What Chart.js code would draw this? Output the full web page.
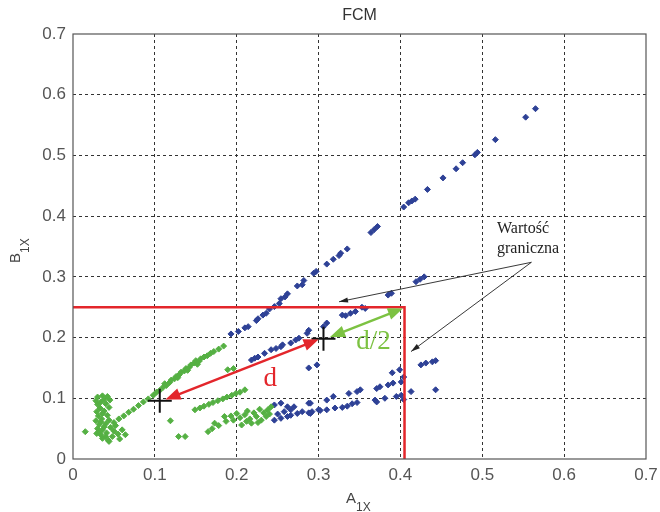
<!DOCTYPE html>
<html>
<head>
<meta charset="utf-8">
<script src="https://cdn.jsdelivr.net/npm/chart.js@4.4.0/dist/chart.umd.min.js"></script>
<style>
  body { margin: 0; background: #fff; }
</style>
</head>
<body>
<canvas id="chart" width="660" height="512"></canvas>
<script>
const xTicks = [0, 0.1, 0.2, 0.3, 0.4, 0.5, 0.6, 0.7];
const yTicks = [0, 0.1, 0.2, 0.3, 0.4, 0.5, 0.6, 0.7];

// cluster 2 (blue)
const bluePoints = [
  [0.565,0.577],[0.553,0.563],[0.516,0.526],[0.494,0.505],[0.491,0.501],[0.476,0.488],[0.468,0.478],
  [0.452,0.463],[0.433,0.444],[0.418,0.428],[0.414,0.425],[0.410,0.422],[0.404,0.415],[0.372,0.383],
  [0.368,0.378],[0.364,0.373],[0.335,0.346],[0.325,0.335],[0.327,0.339],[0.318,0.329],[0.310,0.321],
  [0.297,0.309],[0.294,0.306],[0.282,0.294],[0.280,0.287],[0.274,0.285],[0.262,0.272],[0.259,0.267],
  [0.254,0.264],[0.252,0.256],[0.246,0.251],[0.240,0.247],[0.236,0.240],[0.232,0.237],[0.226,0.231],
  [0.224,0.228],[0.214,0.218],[0.210,0.216],[0.202,0.210],[0.193,0.206],
  [0.218,0.163],[0.222,0.166],[0.226,0.168],[0.234,0.174],[0.242,0.180],[0.248,0.182],[0.254,0.185],
  [0.256,0.188],[0.266,0.191],[0.272,0.196],[0.276,0.199],[0.286,0.207],[0.288,0.212],[0.306,0.218],
  [0.310,0.224],[0.329,0.237],[0.333,0.236],[0.339,0.240],[0.345,0.243],[0.353,0.250],[0.357,0.248],
  [0.385,0.270],[0.389,0.273],[0.419,0.292],[0.424,0.296],[0.429,0.300],
  [0.288,0.150],[0.298,0.155],
  [0.443,0.162],[0.439,0.160],[0.431,0.158],[0.425,0.155],[0.399,0.147],[0.390,0.142],[0.401,0.127],
  [0.391,0.125],[0.385,0.122],[0.375,0.119],[0.371,0.116],[0.413,0.111],[0.443,0.114],[0.401,0.105],
  [0.395,0.103],[0.381,0.100],[0.369,0.097],[0.371,0.094],[0.351,0.114],[0.347,0.111],[0.337,0.108],
  [0.318,0.103],[0.310,0.097],[0.347,0.093],[0.341,0.091],[0.335,0.087],[0.329,0.085],[0.320,0.084],
  [0.310,0.081],[0.302,0.080],[0.292,0.078],[0.288,0.076],[0.288,0.092],[0.270,0.086],[0.266,0.081],
  [0.266,0.072],[0.262,0.070],[0.246,0.089],[0.254,0.092],[0.262,0.086],[0.274,0.075],[0.254,0.067],
  [0.246,0.064],[0.290,0.092],[0.290,0.075],[0.300,0.081],[0.280,0.078],[0.258,0.078],[0.250,0.074],
  [0.404,0.135],[0.404,0.098]
];

// cluster 1 (green)
const greenPoints = [
  [0.030,0.102],[0.036,0.104],[0.042,0.103],[0.028,0.096],[0.038,0.098],[0.045,0.097],[0.030,0.090],
  [0.040,0.091],[0.033,0.084],[0.044,0.085],[0.029,0.078],[0.038,0.079],[0.031,0.071],[0.042,0.072],
  [0.035,0.066],[0.028,0.063],[0.044,0.064],[0.032,0.057],[0.040,0.058],[0.030,0.050],[0.036,0.048],
  [0.046,0.052],[0.029,0.042],[0.034,0.040],[0.041,0.043],[0.050,0.046],[0.036,0.034],[0.043,0.031],
  [0.048,0.037],[0.055,0.041],[0.060,0.048],[0.064,0.040],[0.057,0.033],[0.015,0.045],[0.044,0.029],
  [0.052,0.055],[0.034,0.094],[0.036,0.075],[0.034,0.061],[0.038,0.053],[0.032,0.045],[0.040,0.037],
  [0.050,0.060],[0.056,0.066],[0.062,0.071],[0.068,0.077],[0.074,0.082],[0.080,0.088],[0.086,0.094],
  [0.092,0.099],[0.098,0.105],[0.102,0.110],[0.106,0.113],[0.110,0.118],[0.114,0.121],[0.112,0.124],
  [0.118,0.126],[0.120,0.130],[0.124,0.132],[0.126,0.136],[0.130,0.139],[0.132,0.143],[0.136,0.145],
  [0.138,0.149],[0.142,0.151],[0.144,0.155],[0.148,0.158],[0.150,0.162],[0.154,0.161],[0.156,0.165],
  [0.160,0.168],[0.164,0.170],[0.168,0.174],[0.172,0.177],[0.178,0.181],[0.184,0.186],[0.128,0.134],
  [0.140,0.146],[0.152,0.156],
  [0.119,0.063],[0.129,0.037],[0.137,0.037],[0.196,0.149],[0.189,0.147],
  [0.149,0.081],[0.155,0.084],[0.160,0.087],[0.166,0.090],[0.171,0.093],[0.177,0.096],[0.183,0.099],
  [0.188,0.102],[0.194,0.105],[0.199,0.108],[0.204,0.110],[0.210,0.114],
  [0.165,0.045],[0.170,0.050],[0.173,0.059],[0.178,0.055],[0.185,0.070],[0.187,0.062],[0.193,0.071],
  [0.196,0.064],[0.200,0.075],[0.204,0.068],[0.206,0.056],[0.210,0.073],[0.213,0.079],[0.216,0.066],
  [0.218,0.059],[0.221,0.076],[0.224,0.070],[0.228,0.082],[0.230,0.064],[0.233,0.076],[0.236,0.070],
  [0.238,0.081],[0.242,0.086],[0.240,0.074],[0.226,0.060],[0.212,0.062]
];

const centers = [[0.106, 0.096], [0.306, 0.198]];
const limitLine = [[0, 0.25], [0.405, 0.25], [0.405, 0]];
const arrowD = [[0.113, 0.098], [0.300, 0.197]];
const arrowHalf = [[0.314, 0.201], [0.403, 0.248]];
const noteFrom = [0.560, 0.324];
const noteTo = [[0.325, 0.259], [0.413, 0.177]];
const noteLines = ["Wartość", "graniczna"];
const notePos = [0.518, 0.372];

const toXY = arr => arr.map(p => ({ x: p[0], y: p[1] }));

function arrowHead(ctx, x0, y0, x1, y1, len, half, color) {
  const a = Math.atan2(y1 - y0, x1 - x0);
  ctx.fillStyle = color;
  ctx.beginPath();
  ctx.moveTo(x1, y1);
  ctx.lineTo(x1 - len * Math.cos(a) + half * Math.sin(a), y1 - len * Math.sin(a) - half * Math.cos(a));
  ctx.lineTo(x1 - len * Math.cos(a) - half * Math.sin(a), y1 - len * Math.sin(a) + half * Math.cos(a));
  ctx.closePath();
  ctx.fill();
}

function doubleArrow(ctx, p0, p1, color, w) {
  const a = Math.atan2(p1.y - p0.y, p1.x - p0.x);
  const off = 10;
  ctx.strokeStyle = color;
  ctx.lineWidth = w;
  ctx.beginPath();
  ctx.moveTo(p0.x + off * Math.cos(a), p0.y + off * Math.sin(a));
  ctx.lineTo(p1.x - off * Math.cos(a), p1.y - off * Math.sin(a));
  ctx.stroke();
  arrowHead(ctx, p0.x, p0.y, p1.x, p1.y, 15, 6, color);
  arrowHead(ctx, p1.x, p1.y, p0.x, p0.y, 15, 6, color);
}

const extras = {
  id: "extras",
  afterDatasetsDraw(chart) {
    const ctx = chart.ctx;
    const xs = chart.scales.x, ys = chart.scales.y;
    const px = p => ({ x: xs.getPixelForValue(p[0]), y: ys.getPixelForValue(p[1]) });
    const area = chart.chartArea;
    ctx.save();

    // box
    ctx.strokeStyle = "#555";
    ctx.lineWidth = 1.2;
    ctx.strokeRect(area.left, area.top, area.right - area.left, area.bottom - area.top);

    // d and d/2 arrows
    doubleArrow(ctx, px(arrowD[0]), px(arrowD[1]), "#e3262b", 2.5);
    doubleArrow(ctx, px(arrowHalf[0]), px(arrowHalf[1]), "#7cc242", 2.5);

    // pointers from the note
    const f = px(noteFrom);
    noteTo.forEach(t => {
      const p = px(t);
      ctx.strokeStyle = "#222";
      ctx.lineWidth = 0.9;
      ctx.beginPath();
      ctx.moveTo(f.x, f.y);
      ctx.lineTo(p.x, p.y);
      ctx.stroke();
      arrowHead(ctx, f.x, f.y, p.x, p.y, 9, 2.6, "#222");
    });

    ctx.textBaseline = "alphabetic";
    ctx.font = "16px 'Liberation Serif', 'Times New Roman', serif";
    ctx.fillStyle = "#222";
    ctx.textAlign = "left";
    const n = px(notePos);
    ctx.fillText(noteLines[0], n.x, n.y);
    ctx.fillText(noteLines[1], n.x, n.y + 20);

    ctx.font = "27px 'Liberation Serif', 'Times New Roman', serif";
    ctx.textAlign = "center";
    ctx.textBaseline = "middle";
    ctx.fillStyle = "#e3262b";
    const dp = px([0.241, 0.132]);
    ctx.fillText("d", dp.x, dp.y);
    ctx.fillStyle = "#7cc242";
    const hp = px([0.367, 0.193]);
    ctx.fillText("d/2", hp.x, hp.y);

    // title
    ctx.fillStyle = "#333";
    ctx.font = "16px 'Liberation Sans', Arial, sans-serif";
    ctx.fillText("FCM", (area.left + area.right) / 2, 16);

    // axis titles with subscripts
    ctx.textAlign = "left";
    ctx.textBaseline = "alphabetic";
    ctx.fillStyle = "#444";
    ctx.font = "15px 'Liberation Sans', Arial, sans-serif";
    ctx.fillText("A", 346, 503);
    ctx.font = "12px 'Liberation Sans', Arial, sans-serif";
    ctx.fillText("1X", 356, 511);

    ctx.save();
    ctx.translate(20, 263);
    ctx.rotate(-Math.PI / 2);
    ctx.font = "15px 'Liberation Sans', Arial, sans-serif";
    ctx.fillText("B", 0, 0);
    ctx.font = "12px 'Liberation Sans', Arial, sans-serif";
    ctx.fillText("1X", 10, 9);
    ctx.restore();

    ctx.restore();
  }
};

const gridColor = ctx => (ctx.tick && (ctx.tick.value === 0 || Math.abs(ctx.tick.value - 0.7) < 1e-9)) ? "rgba(0,0,0,0)" : "#333";

new Chart(document.getElementById("chart"), {
  type: "scatter",
  data: {
    datasets: [
      {
        label: "centers",
        data: toXY(centers),
        pointStyle: "cross",
        pointRadius: 12,
        borderColor: "#111",
        borderWidth: 2,
        order: 0
      },
      {
        label: "limit",
        data: toXY(limitLine),
        showLine: true,
        borderColor: "#e3262b",
        borderWidth: 2.5,
        pointRadius: 0,
        order: 1
      },
      {
        label: "cluster 1",
        data: toXY(greenPoints),
        pointStyle: "rectRot",
        pointRadius: 3,
        backgroundColor: "#55b043",
        borderColor: "#55b043",
        borderWidth: 1,
        order: 2
      },
      {
        label: "cluster 2",
        data: toXY(bluePoints),
        pointStyle: "rectRot",
        pointRadius: 3,
        backgroundColor: "#2e4196",
        borderColor: "#2e4196",
        borderWidth: 1,
        order: 3
      }
    ]
  },
  options: {
    responsive: false,
    animation: false,
    devicePixelRatio: 1,
    layout: { padding: { top: 34, right: 8, left: 0, bottom: 0 } },
    plugins: {
      legend: { display: false },
      tooltip: { enabled: false }
    },
    scales: {
      x: {
        type: "linear",
        min: 0,
        max: 0.7,
        afterBuildTicks: s => { s.ticks = xTicks.map(v => ({ value: v })); },
        afterFit: s => { s.height = 53; s.paddingLeft = 0; s.paddingRight = 0; },
        ticks: {
          color: "#555",
          padding: 6,
          font: { family: "'Liberation Sans', Arial, sans-serif", size: 17 },
          callback: v => String(Math.round(v * 10) / 10)
        },
        grid: { color: gridColor, lineWidth: 1, drawTicks: false },
        border: { display: false, dash: [3, 3] }
      },
      y: {
        type: "linear",
        min: 0,
        max: 0.7,
        afterBuildTicks: s => { s.ticks = yTicks.map(v => ({ value: v })); },
        afterFit: s => { s.width = 73; s.paddingTop = 0; s.paddingBottom = 0; },
        ticks: {
          color: "#555",
          padding: 7,
          font: { family: "'Liberation Sans', Arial, sans-serif", size: 17 },
          callback: v => String(Math.round(v * 10) / 10)
        },
        grid: { color: gridColor, lineWidth: 1, drawTicks: false },
        border: { display: false, dash: [3, 3] }
      }
    }
  },
  plugins: [extras]
});
</script>
</body>
</html>
